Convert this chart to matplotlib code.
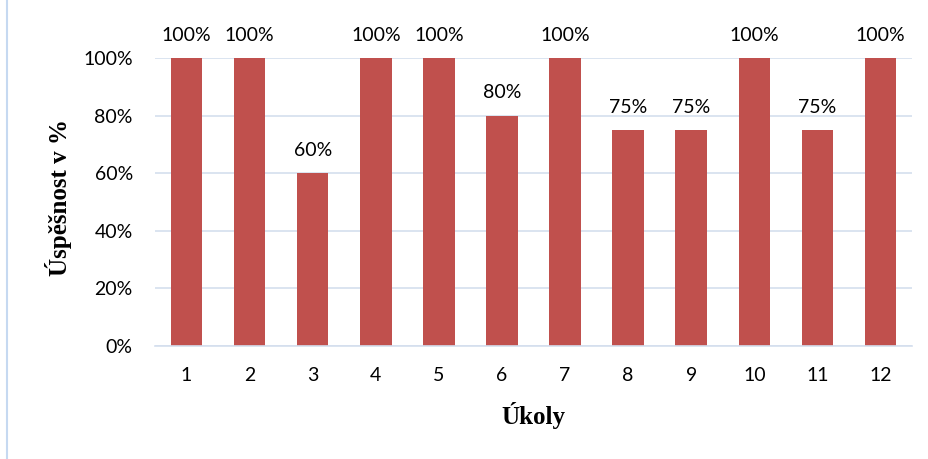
import matplotlib.pyplot as plt
from matplotlib.ticker import PercentFormatter

ukoly = ['1', '2', '3', '4', '5', '6', '7', '8', '9', '10', '11', '12']
uspesnost = [100, 100, 60, 100, 100, 80, 100, 75, 75, 100, 75, 100]

fig = plt.figure(figsize=(9.29, 4.59), dpi=100)
ax = fig.add_axes([155 / 929, 1 - 346 / 459, (912 - 155) / 929, (346 - 58) / 459])

x = range(len(ukoly))
bars = ax.bar(x, uspesnost, width=0.5, color='#C0504D', zorder=2)
for b, v in zip(bars, uspesnost):
    ax.text(b.get_x() + b.get_width() / 2, v + 5, f'{v}%', ha='center', va='bottom',
            fontsize=14, family='Lato', clip_on=False)

ax.set_xlim(-0.5, len(ukoly) - 0.5)
ax.set_ylim(0, 100)
ax.set_yticks(range(0, 101, 20))
ax.yaxis.set_major_formatter(PercentFormatter(decimals=0))
ax.set_xticks(list(x))
ax.set_xticklabels(ukoly)
ax.tick_params(length=0, labelsize=14)
ax.tick_params(axis='x', pad=15)
ax.tick_params(axis='y', pad=16)
for lab in ax.get_xticklabels() + ax.get_yticklabels():
    lab.set_family('Lato')
ax.grid(axis='y', color='#D4DFEE', linewidth=1.2, zorder=0)
for s in ['top', 'right', 'left']:
    ax.spines[s].set_visible(False)
ax.spines['bottom'].set_color('#D4DFEE')
ax.spines['bottom'].set_linewidth(1.2)

ax.set_xlabel('Úkoly', family='Liberation Serif', fontweight='bold', fontsize=18, va='center')
ax.xaxis.set_label_coords(0.5, -0.24)
ax.set_ylabel('Úspěšnost v %', family='Liberation Serif', fontweight='bold', fontsize=18, va='center')
ax.yaxis.set_label_coords(-0.128, 0.517)

fig.add_artist(plt.Line2D([7 / 929, 7 / 929], [0, 1], color='#C6D9F1', linewidth=1.5))

fig.savefig('out.png', dpi=100)
